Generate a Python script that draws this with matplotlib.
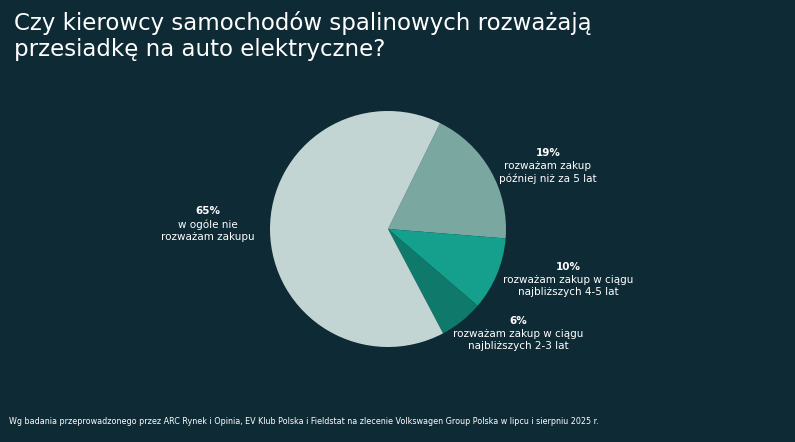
import matplotlib
matplotlib.use("Agg")
import matplotlib.pyplot as plt

values = [19, 10, 6, 65]
pcts = ["19%", "10%", "6%", "65%"]
labels = ["rozważam zakup\npóźniej niż za 5 lat",
          "rozważam zakup w ciągu\nnajbliższych 4-5 lat",
          "rozważam zakup w ciągu\nnajbliższych 2-3 lat",
          "w ogóle nie\nrozważam zakupu"]
colors = ["#7aa7a0", "#14a08c", "#0f7a6c", "#c3d5d2"]
bg = "#0e2a35"

fig = plt.figure(figsize=(7.95, 4.42), dpi=100, facecolor=bg)
ax = fig.add_axes([388/795 - 118/795, 1 - (229+118)/442, 236/795, 236/442])
ax.set_facecolor(bg)
ax.pie(values, colors=colors, startangle=63.8, counterclock=False,
       wedgeprops=dict(linewidth=0), radius=1)
ax.set_xlim(-1, 1)
ax.set_ylim(-1, 1)
ax.set_aspect("equal")
ax.axis("off")

fig.text(14/795, 1 - 36/442, "Czy kierowcy samochodów spalinowych rozważają\nprzesiadkę na auto elektryczne?",
         color="white", fontsize=16.5, va="center", ha="left", linespacing=1.15)

pos = [(548, 153, "center"), (568, 267, "center"), (518, 321, "center"), (208, 211, "center")]
for (x, y, ha), p, l in zip(pos, pcts, labels):
    fig.text(x/795, 1 - y/442, p, color="white", fontsize=7.5, fontweight="bold", ha=ha, va="center")
    fig.text(x/795, 1 - (y + 8)/442, l, color="white", fontsize=7.5, ha=ha, va="top", linespacing=1.3)

fig.text(9/795, 1 - 422/442,
         "Wg badania przeprowadzonego przez ARC Rynek i Opinia, EV Klub Polska i Fieldstat na zlecenie Volkswagen Group Polska w lipcu i sierpniu 2025 r.",
         color="white", fontsize=5.8, va="center", ha="left")
fig.savefig("out.png", dpi=100, facecolor=bg)
